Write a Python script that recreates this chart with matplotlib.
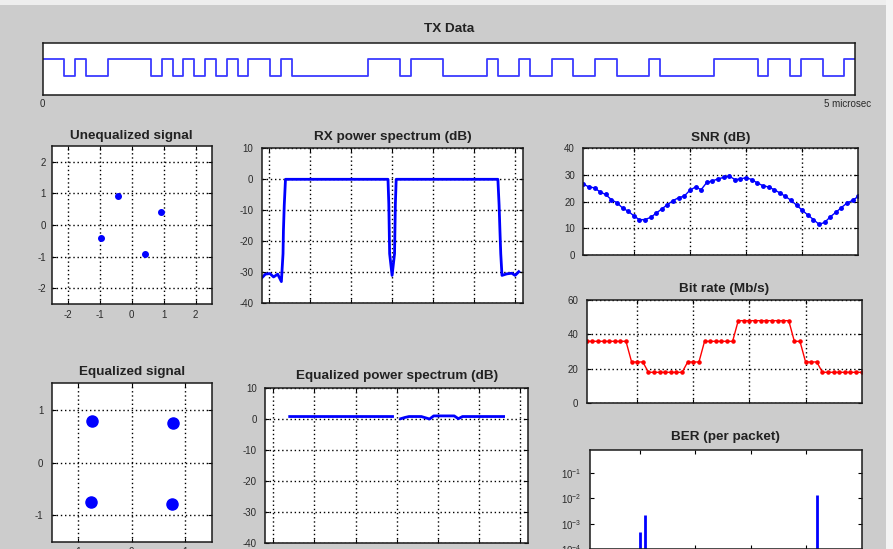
import matplotlib
matplotlib.use("Agg")
import matplotlib.pyplot as plt
import numpy as np
from matplotlib.patches import Rectangle
from matplotlib.ticker import LogLocator, NullLocator

plt.rcParams['font.family'] = ['Liberation Sans', 'DejaVu Sans']
plt.rcParams['axes.unicode_minus'] = False

# --- data ---
tx_bits = [int(c) for c in
           "1101001111" "0101010101" "1010000000" "1110111000"
           "0100100110" "0110001000" "0011110110" "11001"]

uneq_i = [-0.43, 0.91, -0.97, 0.40]
uneq_q = [0.92, 0.41, -0.40, -0.91]

eq_i = [-0.75, 0.78, -0.76, 0.75]
eq_q = [0.78, 0.75, -0.75, -0.78]

rx_freq = [-31.7, -30.9, -29.8, -28.9, -27.9, -27.0, -26.6, -26.5, -26.3, -26.0,
           -1.0, -0.8, -0.6, 0.0, 0.6, 0.8, 1.0,
           25.8, 26.1, 26.3, 26.5, 26.8, 28.0, 29.2, 30.0, 30.9]
rx_db = [-31.7, -30.6, -30.4, -31.5, -30.6, -33.0, -24.0, -16.5, -8.4, 0.0,
         0.0, -8.0, -24.0, -31.0, -24.0, -8.0, 0.0,
         0.0, -8.4, -16.5, -24.0, -31.0, -30.5, -30.3, -31.0, -29.8]

subcarriers = list(range(-26, 27))
eq_db = [0.7, 0.7, 0.7, 0.7, 0.7, 0.7, 0.7, 0.7, 0.7, 0.7, 0.7, 0.7, 0.7,
         0.7, 0.7, 0.7, 0.7, 0.7, 0.7, 0.7, 0.7, 0.7, 0.7, 0.7, 0.7, 0.7,
         np.nan,
         0.0, 0.4, 0.7, 0.7, 0.7, 0.7, 0.3, -0.1, 0.9, 0.9, 0.9, 0.9, 0.9,
         0.9, 0.0, 0.7, 0.7, 0.7, 0.7, 0.7, 0.7, 0.7, 0.7, 0.7, 0.7, 0.7]

packets = list(range(1, 51))
snr = [26.6, 25.5, 25.2, 23.6, 22.7, 20.7, 19.6, 17.6, 16.4, 14.7,
       13.2, 13.3, 14.1, 15.7, 17.3, 18.9, 20.4, 21.5, 22.1, 24.3,
       25.5, 24.5, 27.2, 27.8, 28.5, 29.1, 29.6, 28.3, 28.5, 29.0,
       28.3, 27.0, 26.0, 25.5, 24.5, 23.3, 22.0, 20.5, 18.7, 16.8,
       15.0, 13.3, 11.5, 12.2, 14.3, 16.0, 17.8, 19.5, 20.5, 22.0]
bit_rate = [36, 36, 36, 36, 36, 36, 36, 36, 24, 24,
            24, 18, 18, 18, 18, 18, 18, 18, 24, 24,
            24, 36, 36, 36, 36, 36, 36, 48, 48, 48,
            48, 48, 48, 48, 48, 48, 48, 36, 36, 24,
            24, 24, 18, 18, 18, 18, 18, 18, 18, 18]
ber_packets = [10, 11, 42]
ber = [4.6e-4, 2.2e-3, 1.4e-2]

# --- layout in screen pixels ---
W, H = 893, 549
TITLE_FS = 9.7
TICK_FS = 7
fig = plt.figure(figsize=(W / 100, H / 100), dpi=100, facecolor='#cccccc')
fig.patches.append(Rectangle((0, 1 - 5 / H), 1, 5 / H, transform=fig.transFigure,
                             facecolor='#eeeeee', edgecolor='none'))
fig.patches.append(Rectangle((886 / W, 0), 7 / W, 1, transform=fig.transFigure,
                             facecolor='#f4f4f4', edgecolor='none'))


def add_box(left, top, right, bottom):
    return fig.add_axes([left / W, 1 - bottom / H, (right - left) / W, (bottom - top) / H])


def style(ax, title, pad):
    ax.set_facecolor('white')
    ax.set_title(title, fontsize=TITLE_FS, fontweight='bold', color='#222222', pad=pad)
    ax.tick_params(direction='in', length=3, width=0.8, top=True, right=True,
                   labelsize=TICK_FS, labelcolor='#2a2a2a', pad=4)
    for s in ax.spines.values():
        s.set_linewidth(1.1)
        s.set_color('#1a1a1a')
    ax.grid(True, color='black', linestyle=(0, (1, 2)), linewidth=1.0)


# TX data
ax = add_box(42.5, 42.7, 855, 94.5)
ax.step(np.arange(len(tx_bits) + 1), tx_bits + [tx_bits[-1]], where='post',
        color='#3a3aff', lw=1.3)
ax.set_xlim(0, len(tx_bits))
ax.set_ylim(-1.1, 2.0)
ax.set_xticks([])
ax.set_yticks([])
ax.set_title("TX Data", fontsize=TITLE_FS, fontweight='bold', color='#222222', pad=7.5)
for s in ax.spines.values():
    s.set_linewidth(1.1)
    s.set_color('#1a1a1a')
fig.text(42 / W, 1 - 104 / H, "0", fontsize=TICK_FS, color='#2a2a2a', ha='center', va='center')
fig.text(848 / W, 1 - 104 / H, "5 microsec", fontsize=TICK_FS, color='#2a2a2a',
         ha='center', va='center')

# Unequalized constellation
ax = add_box(51.7, 146, 211.7, 304)
style(ax, "Unequalized signal", 5.0)
ax.plot(uneq_i, uneq_q, 'o', color='blue', ms=4, mec='blue')
ax.set_xlim(-2.5, 2.5)
ax.set_ylim(-2.5, 2.5)
ax.set_xticks([-2, -1, 0, 1, 2])
ax.set_yticks([-2, -1, 0, 1, 2])

# RX power spectrum
ax = add_box(261.7, 148.3, 523.3, 303.3)
style(ax, "RX power spectrum (dB)", 5.8)
ax.plot(rx_freq, rx_db, color='blue', lw=2)
ax.set_xlim(-31.8, 32)
ax.set_ylim(-40, 10)
ax.set_xticks([-30, -20, -10, 0, 10, 20, 30])
ax.set_xticklabels([])
ax.set_yticks([-40, -30, -20, -10, 0, 10])
ax.tick_params(axis='y', pad=6)

# SNR
ax = add_box(583.3, 148.3, 858.3, 255)
style(ax, "SNR (dB)", 5.4)
ax.plot(packets, snr, '.-', color='blue', ms=5, lw=1)
ax.set_xlim(1, 50)
ax.set_ylim(0, 40)
ax.set_xticks([10, 20, 30, 40])
ax.set_xticklabels([])
ax.set_yticks([0, 10, 20, 30, 40])
ax.tick_params(axis='y', pad=6)

# Bit rate
ax = add_box(586.7, 300, 861.7, 403.3)
style(ax, "Bit rate (Mb/s)", 5.5)
ax.plot(packets, bit_rate, '.-', color='red', ms=4.5, lw=1)
ax.set_xlim(1, 50)
ax.set_ylim(0, 60)
ax.set_xticks([10, 20, 30, 40])
ax.set_xticklabels([])
ax.set_yticks([0, 20, 40, 60])
ax.tick_params(axis='y', pad=6)

# BER
ax = add_box(590, 450, 861.7, 549)
style(ax, "BER (per packet)", 7.2)
ax.grid(False)
ax.set_yscale('log')
ax.vlines(ber_packets, 1e-4, ber, color='blue', lw=2)
ax.set_xlim(1, 50)
ax.set_ylim(1e-4, 10 ** -0.1)
ax.set_xticks([10, 20, 30, 40])
ax.set_xticklabels([])
ax.yaxis.set_major_locator(LogLocator(base=10, numticks=10))
ax.yaxis.set_minor_locator(NullLocator())
ax.tick_params(axis='y', pad=6)

# Equalized constellation
ax = add_box(51.7, 383.3, 211.7, 541.7)
style(ax, "Equalized signal", 5.7)
ax.plot(eq_i, eq_q, 'o', color='blue', ms=8, mec='blue')
ax.set_xlim(-1.5, 1.5)
ax.set_ylim(-1.5, 1.5)
ax.set_xticks([-1, 0, 1])
ax.set_yticks([-1, 0, 1])
ax.tick_params(axis='y', pad=6)

# Equalized power spectrum
ax = add_box(265, 387.7, 528.3, 542.7)
style(ax, "Equalized power spectrum (dB)", 6.4)
ax.plot(subcarriers, eq_db, color='blue', lw=2)
ax.set_xlim(-32, 32)
ax.set_ylim(-40, 10)
ax.set_xticks([-30, -20, -10, 0, 10, 20, 30])
ax.set_xticklabels([])
ax.set_yticks([-40, -30, -20, -10, 0, 10])
ax.tick_params(axis='y', pad=6)

fig.savefig("out.png", dpi=100, facecolor=fig.get_facecolor())
